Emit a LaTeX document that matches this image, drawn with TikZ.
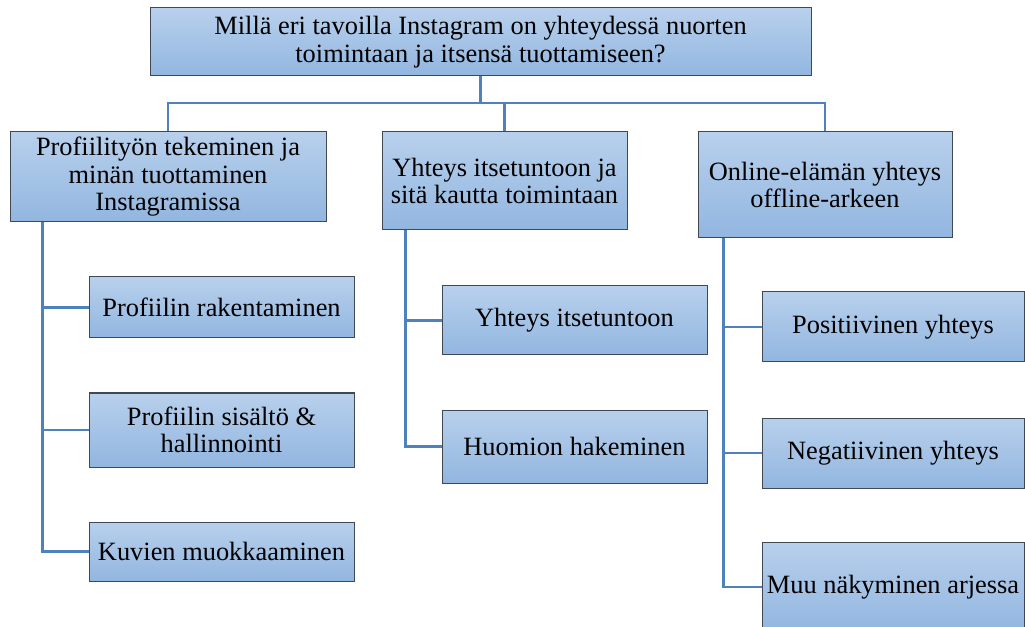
\documentclass[tikz,border=0pt]{standalone}
\usepackage{fontspec}
\setmainfont{Liberation Serif}
\definecolor{boxtop}{RGB}{184,208,236}
\definecolor{boxbot}{RGB}{146,182,224}
\definecolor{boxline}{RGB}{64,72,84}
\definecolor{linkblue}{RGB}{79,129,189}
\tikzset{
  box/.style={draw=boxline, line width=0.75pt, top color=boxtop, bottom color=boxbot,
    align=center, inner sep=0pt, font=\fontsize{19.8}{20.6}\selectfont},
  link/.style={draw=linkblue, line width=2pt}
}
\begin{document}
\begin{tikzpicture}[x=0.75pt,y=0.75pt,yscale=-1]
\useasboundingbox (0,0) rectangle (1025,627);

% Main question
\node [box, minimum width=495.75pt, minimum height=51pt] (q) at (480.5,42) {Millä eri tavoilla Instagram on yhteydessä nuorten\\toimintaan ja itsensä tuottamiseen?};

% Themes
\node [box, minimum width=237pt, minimum height=67.5pt] (prof) at (168,177) {Profiilityön tekeminen ja\\minän tuottaminen\\Instagramissa};
\node [box, minimum width=183.75pt, minimum height=73.5pt] (itse) at (504.5,181) {Yhteys itsetuntoon ja\\sitä kautta toimintaan};
\node [box, minimum width=190.5pt, minimum height=79.5pt] (online) at (825,185) {Online-elämän yhteys\\offline-arkeen};

% Subthemes
\node [box, minimum width=198.75pt, minimum height=45.75pt] (prof1) at (221.5,307.5) {Profiilin rakentaminen};
\node [box, minimum width=198.75pt, minimum height=55.5pt] (prof2) at (221.5,430) {Profiilin sisältö \&\\hallinnointi};
\node [box, minimum width=198.75pt, minimum height=44.25pt] (prof3) at (221.5,551.5) {Kuvien muokkaaminen};
\node [box, minimum width=198.75pt, minimum height=51.75pt] (itse1) at (574.5,320.5) {Yhteys itsetuntoon};
\node [box, minimum width=198.75pt, minimum height=54.75pt] (itse2) at (574.5,446.5) {Huomion hakeminen};
\node [box, minimum width=196.5pt, minimum height=52.5pt] (online1) at (893,327) {Positiivinen yhteys};
\node [box, minimum width=196.5pt, minimum height=52.5pt] (online2) at (893,453) {Negatiivinen yhteys};
\node [box, minimum width=196.5pt, minimum height=67.5pt] (online3) at (893,587) {Muu näkyminen arjessa};

% Bus under the question
\coordinate (bus) at (482,103);
\draw [link] (q.south) -- (q.south |- bus);
\draw [link] (prof.north) |- (bus) -| (online.north);
\draw [link] (itse.north) -- (itse.north |- bus);

% Trunks to the subthemes
\coordinate (tprof) at ([xshift=24.75pt]prof.south west);
\coordinate (titse) at ([xshift=18pt]itse.south west);
\coordinate (tonline) at ([xshift=19.5pt]online.south west);
\draw [link] (tprof) |- (prof3.west);
\draw [link] (prof1.west) -- (prof1.west -| tprof);
\draw [link] (prof2.west) -- (prof2.west -| tprof);
\draw [link] (titse) |- (itse2.west);
\draw [link] (itse1.west) -- (itse1.west -| titse);
\draw [link] (tonline) |- (online3.west);
\draw [link] (online1.west) -- (online1.west -| tonline);
\draw [link] (online2.west) -- (online2.west -| tonline);

\end{tikzpicture}
\end{document}
